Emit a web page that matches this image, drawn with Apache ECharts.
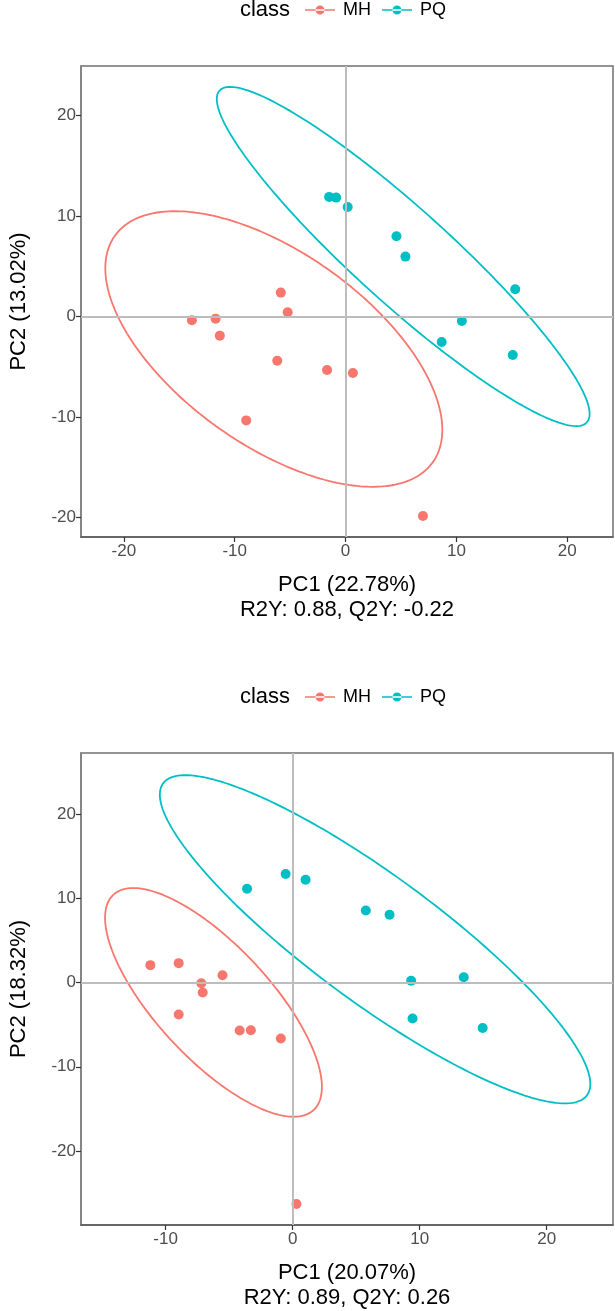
<!DOCTYPE html>
<html><head><meta charset="utf-8">
<script src="https://cdn.jsdelivr.net/npm/echarts@6/dist/echarts.min.js"></script>
<style>html,body{margin:0;padding:0;background:#fff}#c{width:615px;height:1311px}</style>
</head><body><div id="c"></div>
<script>
const classes = ['MH', 'PQ'];
const colors = ['#F8766D', '#00BFC4'];

// ---- Panel 1 ----
const p1_MH_x = [-5.84, -5.22, -13.86, -11.72, -11.34, -6.16, -1.67, 0.66, -8.96, 6.98];
const p1_MH_y = [2.39, 0.43, -0.36, -0.20, -1.89, -4.38, -5.31, -5.61, -10.32, -19.83];
const p1_PQ_x = [-1.48, -0.85, 0.19, 4.59, 5.40, 15.30, 10.49, 8.67, 15.08];
const p1_PQ_y = [11.91, 11.84, 10.91, 7.99, 5.97, 2.72, -0.43, -2.52, -3.81];
// ellipse: [centerX, centerY, semiMajor, semiMinor, angleDeg]
const p1_ell_MH = [-6.47, -3.22, 18.26, 9.24, -40.0];
const p1_ell_PQ = [5.20, 5.98, 23.39, 4.50, -45.1];
const p1_xTicks = [-20, -10, 0, 10, 20];
const p1_yTicks = [-20, -10, 0, 10, 20];
const p1_xName = 'PC1 (22.78%)\nR2Y: 0.88, Q2Y: -0.22';
const p1_yName = 'PC2 (13.02%)';

// ---- Panel 2 ----
const p2_MH_x = [-11.20, -8.97, -5.52, -7.19, -7.08, -8.97, -4.17, -3.29, -0.93, 0.30];
const p2_MH_y = [2.06, 2.30, 0.87, -0.08, -1.19, -3.80, -5.70, -5.66, -6.65, -26.28];
const p2_PQ_x = [-3.59, -0.55, 1.02, 5.76, 7.63, 9.33, 13.47, 9.44, 14.96];
const p2_PQ_y = [11.13, 12.87, 12.20, 8.55, 8.04, 0.20, 0.63, -4.28, -5.39];
const p2_ell_MH = [-6.23, -2.36, 15.19, 5.13, -61.5];
const p2_ell_PQ = [6.49, 5.13, 25.06, 6.21, -49.5];
const p2_xTicks = [-10, 0, 10, 20];
const p2_yTicks = [-20, -10, 0, 10, 20];
const p2_xName = 'PC1 (20.07%)\nR2Y: 0.89, Q2Y: 0.26';
const p2_yName = 'PC2 (18.32%)';

function zip(xs, ys) { return xs.map((x, i) => [x, ys[i]]); }
function ellipsePoints(e) {
  const [cx, cy, a, b, ang] = e;
  const t = ang * Math.PI / 180;
  const pts = [];
  const n = 240;
  for (let i = 0; i <= n; i++) {
    const s = 2 * Math.PI * i / n;
    const u = a * Math.cos(s), v = b * Math.sin(s);
    pts.push([cx + u * Math.cos(t) - v * Math.sin(t), cy + u * Math.sin(t) + v * Math.cos(t)]);
  }
  return pts;
}

const FONT = '"Liberation Sans", Arial, sans-serif';
const panels = [
  {top: 66, height: 471, xr: [-23.86, 24.12], yr: [-21.92, 24.93], xTicks: p1_xTicks, yTicks: p1_yTicks,
   xName: p1_xName, yName: p1_yName, MH: zip(p1_MH_x, p1_MH_y), PQ: zip(p1_PQ_x, p1_PQ_y),
   eMH: p1_ell_MH, ePQ: p1_ell_PQ, legendY: 10},
  {top: 753, height: 472, xr: [-16.66, 25.22], yr: [-28.78, 27.24], xTicks: p2_xTicks, yTicks: p2_yTicks,
   xName: p2_xName, yName: p2_yName, MH: zip(p2_MH_x, p2_MH_y), PQ: zip(p2_PQ_x, p2_PQ_y),
   eMH: p2_ell_MH, ePQ: p2_ell_PQ, legendY: 697}
];

const option = {
  animation: false,
  backgroundColor: '#ffffff',
  grid: [], xAxis: [], yAxis: [], series: [], legend: [], graphic: []
};

const legendIcon = 'path://M0,4.3H30V5.7H0Z M10.5,5A4.5,4.5 0 1,0 19.5,5A4.5,4.5 0 1,0 10.5,5Z';

panels.forEach((p, k) => {
  option.grid.push({left: 74, top: p.top, width: 539, height: p.height, show: true,
    borderColor: '#707070', borderWidth: 1.5, backgroundColor: '#ffffff'});
  option.xAxis.push({
    type: 'value', gridIndex: k, min: p.xr[0], max: p.xr[1],
    name: p.xName, nameLocation: 'middle', nameGap: 35,
    nameTextStyle: {fontFamily: FONT, fontSize: 22, color: '#000', lineHeight: 25},
    axisLine: {show: true, onZero: false, lineStyle: {color: '#5a5a5a', width: 1.5}},
    axisTick: {show: true, length: 5, lineStyle: {color: '#333', width: 1.2}, customValues: p.xTicks},
    axisLabel: {customValues: p.xTicks, fontFamily: FONT, fontSize: 17, color: '#4d4d4d', margin: 6},
    splitLine: {show: false}
  });
  option.yAxis.push({
    type: 'value', gridIndex: k, min: p.yr[0], max: p.yr[1],
    name: p.yName, nameLocation: 'middle', nameGap: 51, nameRotate: 90,
    nameTextStyle: {fontFamily: FONT, fontSize: 22, color: '#000'},
    axisLine: {show: true, onZero: false, lineStyle: {color: '#808080', width: 1.5}},
    axisTick: {show: true, length: 5, lineStyle: {color: '#333', width: 1.2}, customValues: p.yTicks},
    axisLabel: {customValues: p.yTicks, fontFamily: FONT, fontSize: 17, color: '#4d4d4d', margin: 5},
    splitLine: {show: false}
  });
  // zero reference lines
  option.series.push({
    name: 'zero' + k, type: 'line', xAxisIndex: k, yAxisIndex: k, data: [], z: 1, silent: true,
    markLine: {silent: true, symbol: ['none', 'none'], label: {show: false},
      lineStyle: {color: '#bdbdbd', width: 2, type: 'solid'},
      emphasis: {disabled: true},
      data: [{xAxis: 0}, {yAxis: 0}]}
  });
  // ellipses
  [['MH', p.eMH, 0], ['PQ', p.ePQ, 1]].forEach(([nm, e, ci]) => {
    option.series.push({
      name: nm + ' ellipse ' + k, type: 'line', xAxisIndex: k, yAxisIndex: k,
      data: ellipsePoints(e), showSymbol: false, symbol: 'none', smooth: false, z: 2, silent: true,
      lineStyle: {color: colors[ci], width: 1.8}
    });
  });
  // points
  [['MH', p.MH, 0], ['PQ', p.PQ, 1]].forEach(([nm, d, ci]) => {
    option.series.push({
      name: nm, type: 'scatter', xAxisIndex: k, yAxisIndex: k, data: d, z: 3,
      symbol: 'circle', symbolSize: 10, itemStyle: {color: colors[ci], opacity: 1}
    });
  });
  option.legend.push({
    data: classes, left: 305, top: p.legendY - 9, padding: 0, itemGap: 11,
    itemWidth: 30, itemHeight: 10, icon: legendIcon, selectedMode: false,
    textStyle: {fontFamily: FONT, fontSize: 18, color: '#000', padding: [0, 0, 0, 3]}
  });
  option.graphic.push({
    type: 'text', x: 290, y: p.legendY, silent: true,
    style: {text: 'class', fill: '#000', font: '22px ' + FONT, align: 'right', verticalAlign: 'middle'}
  });
});

const chart = echarts.init(document.getElementById('c'), null, {renderer: 'canvas'});
chart.setOption(option);
</script>
</body></html>
